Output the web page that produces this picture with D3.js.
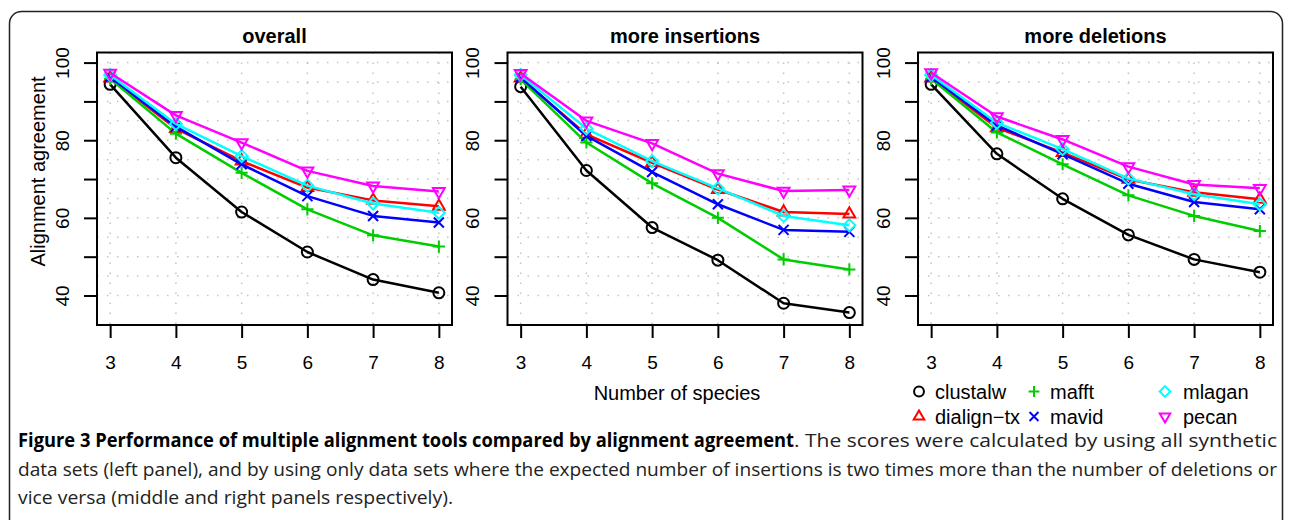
<!DOCTYPE html>
<html>
<head>
<meta charset="utf-8">
<script src="https://cdn.jsdelivr.net/npm/d3@7"></script>
<style>
  body { margin: 0; background: #fff; }
  svg { display: block; }
</style>
</head>
<body>
<div id="chart"></div>
<script>
const species = [3, 4, 5, 6, 7, 8];
const tools = ["clustalw", "dialign\u2212tx", "mafft", "mavid", "mlagan", "pecan"];
const panelTitles = ["overall", "more insertions", "more deletions"];
const yTicks = [40, 50, 60, 70, 80, 90, 100];
const yLabels = [40, 60, 80, 100];

// one row per tool, one value per number of species
const overall = [
  [94.4, 75.5, 61.5, 51.2, 44.1, 40.7],
  [96.0, 83.0, 74.6, 67.8, 64.5, 63.0],
  [95.8, 81.7, 71.6, 62.2, 55.5, 52.6],
  [96.3, 83.5, 73.8, 65.6, 60.5, 58.8],
  [96.8, 84.2, 75.9, 68.3, 63.7, 61.3],
  [97.3, 86.4, 79.4, 72.1, 68.2, 66.8]
];
const moreInsertions = [
  [93.8, 72.2, 57.5, 49.1, 38.0, 35.6],
  [96.0, 81.5, 74.2, 67.3, 61.5, 61.0],
  [95.7, 79.4, 68.9, 60.0, 49.3, 46.7],
  [96.2, 81.1, 71.8, 63.5, 56.9, 56.4],
  [96.8, 83.0, 74.6, 67.6, 60.5, 58.1],
  [97.2, 85.0, 79.2, 71.4, 66.9, 67.2]
];
const moreDeletions = [
  [94.4, 76.5, 64.9, 55.6, 49.3, 46.0],
  [96.0, 83.2, 76.8, 69.9, 66.6, 64.8],
  [95.8, 82.0, 73.8, 65.8, 60.5, 56.6],
  [96.3, 83.8, 76.4, 68.8, 64.1, 62.2],
  [96.8, 84.5, 77.7, 70.1, 66.1, 63.5],
  [97.4, 86.1, 80.2, 73.2, 68.6, 67.6]
];

const captionBold = "Figure 3 Performance of multiple alignment tools compared by alignment agreement";
const captionLines = [
  ". The scores were calculated by using all synthetic",
  "data sets (left panel), and by using only data sets where the expected number of insertions is two times more than the number of deletions or",
  "vice versa (middle and right panels respectively)."
];

const colors = ["#000000", "#ff0000", "#00cd00", "#0000ff", "#00ffff", "#ff00ff"];
const symbols = [
  { type: d3.symbolCircle, size: 95, rot: 0 },
  { type: d3.symbolTriangle2, size: 100, rot: 0 },
  { type: d3.symbolPlus, size: 50, rot: 0 },
  { type: d3.symbolX, size: 67, rot: 0 },
  { type: d3.symbolDiamond2, size: 92, rot: 0 },
  { type: d3.symbolTriangle2, size: 100, rot: 180 }
];

const chartFont = "'Liberation Sans', Arial, sans-serif";
const width = 1292, height = 520;
const panelLeft = [97, 507.5, 918];
const plotW = 355, plotTop = 52.5, plotBottom = 325;

const svg = d3.select("#chart")
  .append("svg")
  .attr("width", width)
  .attr("height", height)
  .style("font-family", chartFont);

// figure frame
svg.append("rect")
  .attr("x", 9.5)
  .attr("y", 11.5)
  .attr("width", 1273)
  .attr("height", 560)
  .attr("rx", 12)
  .attr("fill", "none")
  .attr("stroke", "#222")
  .attr("stroke-width", 1.5);

const y = d3.scaleLinear().domain([32.4, 102.6]).range([plotBottom, plotTop]);

[overall, moreInsertions, moreDeletions].forEach((series, p) => {
  const x = d3.scaleLinear()
    .domain([2.8, 8.2])
    .range([panelLeft[p], panelLeft[p] + plotW]);

  const g = svg.append("g");

  // dotted grid
  g.selectAll(".vgrid")
    .data(species)
    .enter()
    .append("line")
    .attr("x1", d => x(d)).attr("x2", d => x(d))
    .attr("y1", plotTop).attr("y2", plotBottom)
    .attr("stroke", "#c4c4c4")
    .attr("stroke-width", 1.5)
    .attr("stroke-dasharray", "1.5,8.5");

  g.selectAll(".hgrid")
    .data(d3.range(40, 101, 5))
    .enter()
    .append("line")
    .attr("x1", panelLeft[p]).attr("x2", panelLeft[p] + plotW)
    .attr("y1", d => y(d)).attr("y2", d => y(d))
    .attr("stroke", "#c4c4c4")
    .attr("stroke-width", 1.5)
    .attr("stroke-dasharray", "1.5,8.5");

  // axes
  const yAxis = g.append("g")
    .attr("transform", `translate(${panelLeft[p]},0)`)
    .call(d3.axisLeft(y)
      .tickValues(yTicks)
      .tickSize(13)
      .tickSizeOuter(0)
      .tickFormat(d => yLabels.includes(d) ? d : ""));
  yAxis.select(".domain").remove();
  yAxis.selectAll("line").attr("stroke", "#000").attr("stroke-width", 2);
  yAxis.selectAll("text")
    .attr("transform", "rotate(-90)")
    .attr("x", 0)
    .attr("y", -28.5)
    .attr("dy", 0)
    .attr("text-anchor", "middle")
    .attr("fill", "#000")
    .style("font-size", "19px")
    .style("font-family", chartFont);

  const xAxis = g.append("g")
    .attr("transform", `translate(0,${plotBottom})`)
    .call(d3.axisBottom(x)
      .tickValues(species)
      .tickFormat(d3.format("d"))
      .tickSize(13)
      .tickSizeOuter(0)
      .tickPadding(17.5));
  xAxis.select(".domain").remove();
  xAxis.selectAll("line").attr("stroke", "#000").attr("stroke-width", 2);
  xAxis.selectAll("text")
    .attr("fill", "#000")
    .style("font-size", "19px")
    .style("font-family", chartFont);

  // series
  const line = d3.line()
    .x((d, i) => x(species[i]))
    .y(d => y(d));

  series.forEach((vals, t) => {
    g.append("path")
      .attr("d", line(vals))
      .attr("fill", "none")
      .attr("stroke", colors[t])
      .attr("stroke-width", 2.5)
      .attr("stroke-linejoin", "round");

    g.selectAll(null)
      .data(vals)
      .enter()
      .append("path")
      .attr("transform", (d, i) => `translate(${x(species[i])},${y(d)}) rotate(${symbols[t].rot})`)
      .attr("d", d3.symbol().type(symbols[t].type).size(symbols[t].size))
      .attr("fill", "none")
      .attr("stroke", colors[t])
      .attr("stroke-width", 2);
  });

  // box
  g.append("rect")
    .attr("x", panelLeft[p])
    .attr("y", plotTop)
    .attr("width", plotW)
    .attr("height", plotBottom - plotTop)
    .attr("fill", "none")
    .attr("stroke", "#000")
    .attr("stroke-width", 2);

  g.append("text")
    .attr("x", panelLeft[p] + plotW / 2)
    .attr("y", 43)
    .attr("text-anchor", "middle")
    .style("font-size", "20px")
    .style("font-weight", "bold")
    .text(panelTitles[p]);
});

svg.append("text")
  .attr("transform", "translate(45,171.5) rotate(-90)")
  .attr("text-anchor", "middle")
  .style("font-size", "20px")
  .text("Alignment agreement");

svg.append("text")
  .attr("x", 677)
  .attr("y", 400)
  .attr("text-anchor", "middle")
  .style("font-size", "20px")
  .text("Number of species");

// legend, filled column by column
const legendX = [919, 1034, 1165];
const legendY = [391.5, 416.5];
const legend = svg.selectAll(".legend")
  .data(tools)
  .enter()
  .append("g")
  .attr("transform", (d, i) => `translate(${legendX[Math.floor(i / 2)]},${legendY[i % 2]})`);

legend.append("path")
  .attr("transform", (d, i) => `rotate(${symbols[i].rot})`)
  .attr("d", (d, i) => d3.symbol().type(symbols[i].type).size(symbols[i].size * 0.8)())
  .attr("fill", "none")
  .attr("stroke", (d, i) => colors[i])
  .attr("stroke-width", 2);

legend.append("text")
  .attr("x", (d, i) => Math.floor(i / 2) === 2 ? 18 : 16)
  .attr("dy", "0.36em")
  .style("font-size", "20px")
  .text(d => d);

// caption, justified like the journal layout
const captionFont = "'Open Sans', 'Noto Sans', sans-serif";
const captionSize = "19px";
svg.append("text")
  .attr("x", 18)
  .attr("y", 447)
  .attr("textLength", 776)
  .attr("lengthAdjust", "spacingAndGlyphs")
  .style("font-family", captionFont)
  .style("font-size", captionSize)
  .style("font-weight", "bold")
  .attr("fill", "#000")
  .text(captionBold);

const captionX = [794, 18, 18];
const captionLen = [483, 1259, 435];
captionLines.forEach((txt, i) => {
  svg.append("text")
    .attr("x", captionX[i])
    .attr("y", 447 + i * 28.5)
    .attr("textLength", captionLen[i])
    .attr("lengthAdjust", "spacingAndGlyphs")
    .style("font-family", captionFont)
    .style("font-size", captionSize)
    .attr("fill", "#222")
    .text(txt);
});
</script>
</body>
</html>
